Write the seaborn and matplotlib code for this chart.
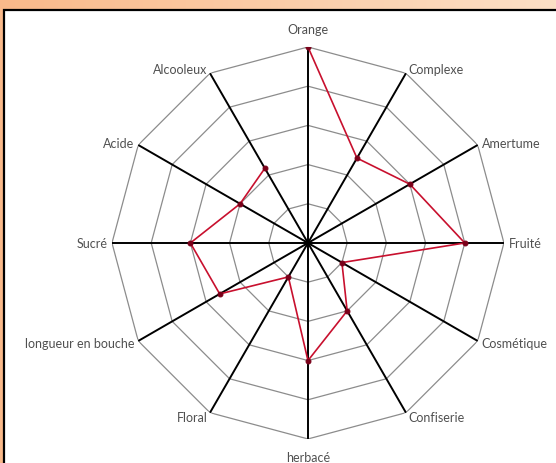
import numpy as np
import pandas as pd
import matplotlib
matplotlib.use("Agg")
import matplotlib.pyplot as plt
from matplotlib.patches import Rectangle
import seaborn as sns

# Données du radar
criteres = ['Orange', 'Complexe', 'Amertume', 'Fruité', 'Cosmétique', 'Confiserie',
            'herbacé', 'Floral', 'longueur en bouche', 'Sucré', 'Acide', 'Alcooleux']
notes = [5, 2.5, 3, 4, 1, 2, 3, 1, 2.6, 3, 2, 2.2]
niveaux = [1, 2, 3, 4, 5]

sns.set_style("white")
plt.rcParams['font.family'] = ['Lato', 'DejaVu Sans']

n = len(criteres)
angles = np.linspace(0, 2 * np.pi, n, endpoint=False)
df = pd.DataFrame({'angle': np.append(angles, angles[0]),
                   'note': notes + [notes[0]]})

fig = plt.figure(figsize=(5.56, 4.64), dpi=100)

# fond orange dégradé + cadre blanc
grad = np.linspace(0, 1, 256).reshape(1, -1)
bg = fig.add_axes([0, 0, 1, 1], zorder=-2)
bg.imshow(grad, aspect='auto', extent=[0, 1, 0, 1],
          cmap=matplotlib.colors.LinearSegmentedColormap.from_list('o', ['#f9b98a', '#fde0c6']))
bg.axis('off')
fig.patches.append(Rectangle((3.5 / 556, -0.01), 1.02, 1 - 10.5 / 464 + 0.01, transform=fig.transFigure,
                             facecolor='white', edgecolor='black', linewidth=1.6, zorder=-1))

ax = fig.add_axes([0.2014, 0.0517, 0.705, 0.845], projection='polar')
ax.set_theta_zero_location('N')
ax.set_theta_direction(-1)
ax.set_facecolor('none')
ax.grid(False)
ax.spines['polar'].set_visible(False)
ax.set_xticks([])
ax.set_yticks([])
ax.set_ylim(0, 5)

# anneaux polygonaux
ring_t = np.append(angles, angles[0])
for lv in niveaux:
    ax.plot(ring_t, [lv] * (n + 1), color='#8c8c8c', linewidth=0.9, zorder=1)
# rayons
for a in angles:
    ax.plot([a, a], [0, 5], color='black', linewidth=1.4, zorder=2)

sns.lineplot(data=df, x='angle', y='note', sort=False, ax=ax, color='#c8102e',
             linewidth=1.2, marker='o', markersize=3.5, markerfacecolor='#7a0019',
             markeredgecolor='#7a0019', zorder=3)
ax.set_xlabel('')
ax.set_ylabel('')
ax.set_ylim(0, 5)

for a, lab in zip(angles, criteres):
    s, c = np.sin(a), np.cos(a)
    ha = 'left' if s > 0.1 else ('right' if s < -0.1 else 'center')
    va = 'bottom' if c > 0.9 else ('top' if c < -0.9 else 'center')
    r = 5.3 if abs(c) > 0.9 else 5.12
    ax.text(a, r, lab, ha=ha, va=va, fontsize=9, color='#505050', clip_on=False)

fig.savefig('out.png', dpi=100)
